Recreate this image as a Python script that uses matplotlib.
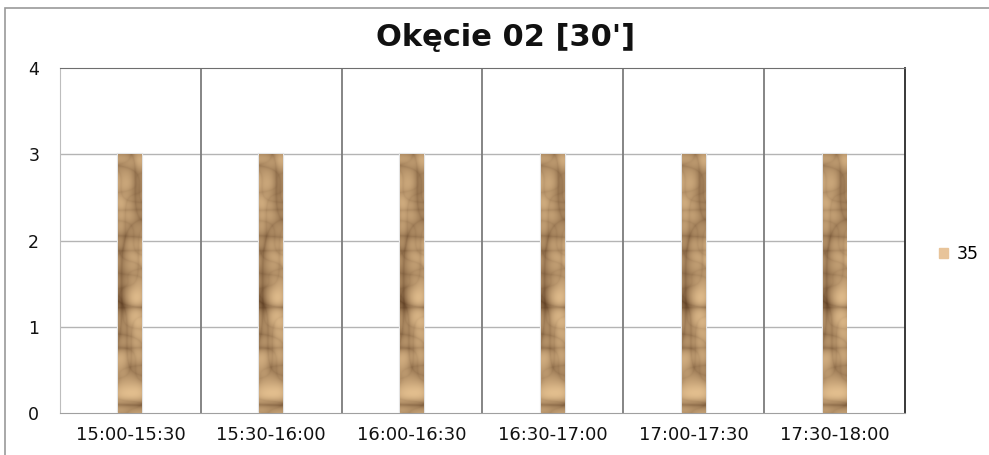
import numpy as np
import matplotlib
matplotlib.use("Agg")
import matplotlib.pyplot as plt
from matplotlib.patches import Rectangle

# data
categories = ["15:00-15:30", "15:30-16:00", "16:00-16:30",
              "16:30-17:00", "17:00-17:30", "17:30-18:00"]
values = [3, 3, 3, 3, 3, 3]
series_name = "35"
title = "Okęcie 02 [30']"

plt.rcParams["font.family"] = ["DejaVu Sans"]

fig = plt.figure(figsize=(9.89, 4.55), dpi=100)
ax = fig.add_axes([0.0607, 0.0923, 0.915 - 0.0607, 0.8505 - 0.0923])

# outer chart frame (extends past the right/bottom edge)
fig.patches.append(Rectangle((5 / 989, -0.1), 1.2, 1 - 8 / 455 + 0.1,
                             transform=fig.transFigure, fill=False,
                             edgecolor="#9a9a9a", linewidth=1.2))

x = np.arange(len(categories))
bars = ax.bar(x, values, width=0.17, color="#c8a074",
              edgecolor="#e4e4e4", linewidth=1.6, zorder=3)

# crumpled paper look: crease lines from a few fixed waves
yy, xx = np.mgrid[0:400, 0:40] / 90.0
waves = [(2.9, 1.1, 0.4), (-1.7, 3.3, 1.9), (5.3, -2.1, 2.6), (0.9, 5.7, 0.2),
         (-4.1, 4.4, 1.1), (7.3, 2.6, 2.2)]
ridge = np.zeros_like(xx)
for i, (a, b, c) in enumerate(waves):
    g = np.sin(a * xx + b * yy + c + 0.8 * np.sin(1.3 * b * yy - a * xx))
    ridge += np.abs(g) ** 0.5 / (1 + 0.3 * i)
ridge = (ridge - ridge.min()) / (ridge.max() - ridge.min())
dark = np.array([98, 66, 38]) / 255
light = np.array([226, 190, 142]) / 255
tex = dark + (light - dark) * (ridge[..., None] ** 1.2)

for b in bars:
    x0, y0 = b.get_x(), b.get_y()
    im = ax.imshow(tex, extent=(x0, x0 + b.get_width(), y0, y0 + b.get_height()),
                   aspect="auto", zorder=3.5, interpolation="bilinear")
    im.set_clip_path(b)

ax.set_xlim(-0.5, len(categories) - 0.5)
ax.set_ylim(0, 4)
ax.set_yticks([0, 1, 2, 3, 4])
ax.set_xticks(x)
ax.set_xticklabels(categories, fontsize=13, color="#111111")
ax.tick_params(axis="y", labelsize=12.5, length=0, pad=15, colors="#111111")
ax.tick_params(axis="x", length=0, pad=9)

# gridlines
for v in [1, 2, 3]:
    ax.axhline(v, color="#b4b4b4", linewidth=1.0, zorder=1)
for s in np.arange(0.5, len(categories) - 1, 1.0):
    ax.axvline(s, color="#7c7c7c", linewidth=1.3, zorder=1)

ax.spines["top"].set_color("#6e6e6e")
ax.spines["right"].set_color("#2a2a2a")
ax.spines["right"].set_linewidth(1.3)
ax.spines["left"].set_color("#bdbdbd")
ax.spines["bottom"].set_color("#a0a0a0")

fig.text(0.511, 0.917, title, ha="center", va="center",
         fontsize=22, fontweight="bold", color="#111111")

# legend
leg = ax.legend([Rectangle((0, 0), 1, 1, color="#e8c49a")], [series_name],
                loc="center left", bbox_to_anchor=(1.022, 0.46), frameon=False,
                fontsize=12.5, handlelength=0.5, handleheight=0.5, handletextpad=0.5)

fig.savefig("out.png", dpi=100)
